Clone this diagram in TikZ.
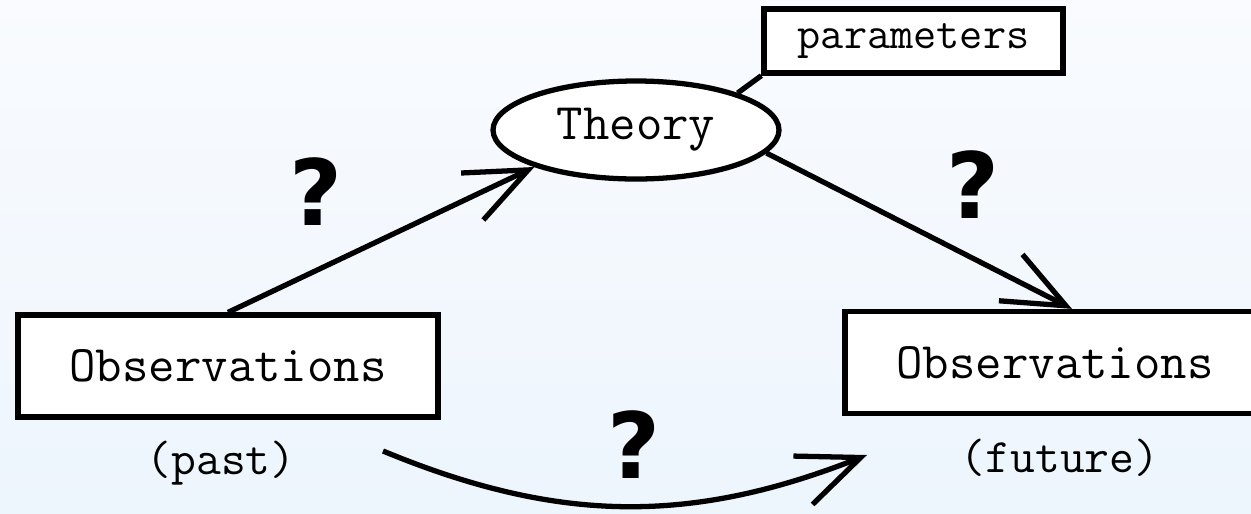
\documentclass[tikz,border=0pt]{standalone}
\usepackage{fontspec}
\setsansfont{DejaVu Sans}
\usetikzlibrary{arrows.meta,shapes.geometric}
\definecolor{bgtop}{RGB}{249,251,254}
\definecolor{bgbottom}{RGB}{237,245,253}

\begin{document}
\begin{tikzpicture}[
        obsbox/.style={draw, fill=white, line width=1.5pt, inner sep=0pt,
            minimum width=4.2cm, minimum height=1.02cm,
            font=\ttfamily\fontsize{14.6}{17}\selectfont},
        when/.style={inner sep=0pt, font=\ttfamily\fontsize{13.7}{16}\selectfont},
        qmark/.style={inner sep=0pt, font=\sffamily\bfseries\fontsize{26}{30}\selectfont},
        arr/.style={line width=1.5pt, -{Straight Barb[length=6.2mm, width=5.2mm]}}
    ]
            \useasboundingbox (0,0) rectangle (12.51,5.13);
            \shade[top color=bgtop, bottom color=bgbottom] (0,0) rectangle (12.51,5.13);
            \clip (0,0) rectangle (12.51,5.13);

            \node[obsbox] (obspast) at (2.28,1.47) {Observations};
            \node[obsbox] (obsfut) at (10.55,1.505) {Observations};
            \node[when] (past) at (2.21,0.50) {(past)};
            \node[when] (future) at (10.60,0.55) {(future)};

            \node[draw, fill=white, ellipse, line width=1.5pt, inner sep=0pt,
                minimum width=2.86cm, minimum height=0.98cm,
                font=\ttfamily\fontsize{14.6}{17}\selectfont] (theory) at (6.36,3.83) {Theory};
            \node[draw, fill=white, line width=1.5pt, inner sep=0pt,
                minimum width=2.99cm, minimum height=0.64cm,
                font=\ttfamily\fontsize{12.8}{15}\selectfont] (params) at (9.135,4.72) {parameters};

            \node[qmark] (q1) at (3.16,3.21) {?};
            \node[qmark] (q2) at (9.73,3.28) {?};
            \node[qmark] (q3) at (6.34,0.68) {?};

            \coordinate (cstart) at (3.83,0.62);
            \coordinate (cend) at (8.67,0.58);

            \draw[line width=1.5pt] (theory.20) -- (params.south west);
            \draw[arr] (obspast.north) -- (theory.200);
            \draw[arr] (theory.-10) -- ([xshift=0.17cm]obsfut.north);
            \draw[arr] (cstart) to[bend right=22] (cend);
        \end{tikzpicture}
\end{document}
